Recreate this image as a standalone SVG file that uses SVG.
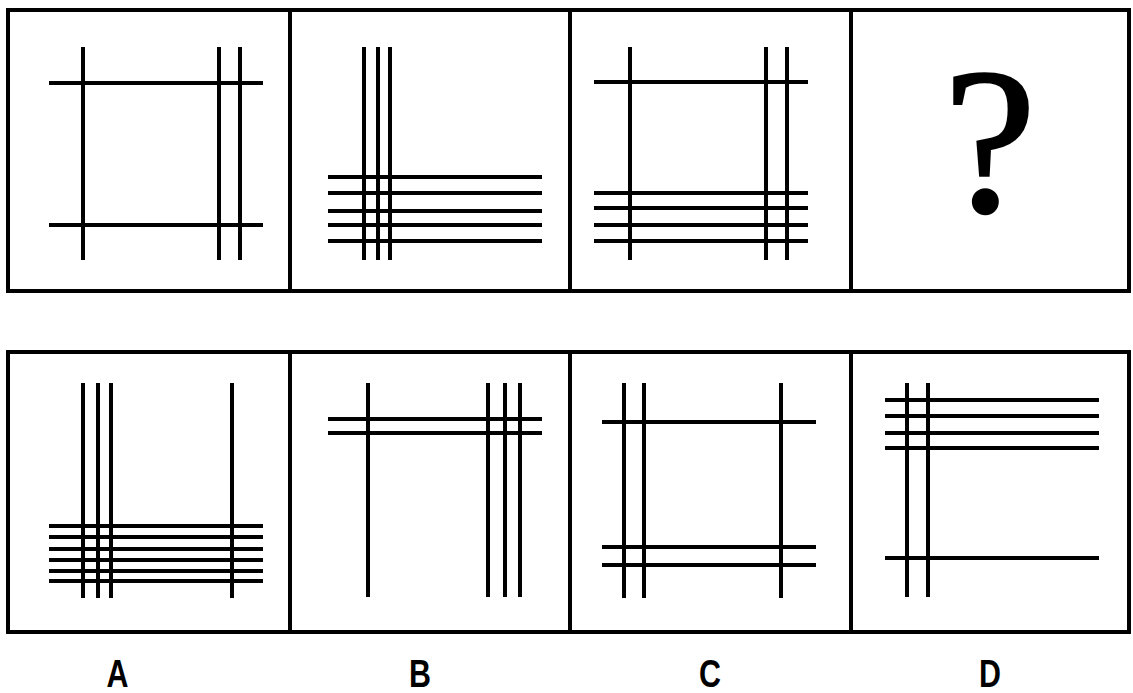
<svg xmlns="http://www.w3.org/2000/svg" width="1133" height="693" viewBox="0 0 1133 693">
<style>
.frame{fill:none;stroke:#000;stroke-width:4}
.ln{stroke:#000;stroke-width:4}
.lbl{font-family:"Liberation Sans",Arial,sans-serif;font-weight:bold;font-size:39px;fill:#000;text-anchor:middle}
.q{font-family:"Liberation Serif","Times New Roman",serif;font-size:208px;fill:#000;stroke:#000;stroke-width:2.5;text-anchor:middle}
</style>
<rect width="1133" height="693" fill="#fff"/>
<g id="frames">
<rect class="frame" x="8" y="10" width="1121" height="281"/>
<line class="ln" x1="290" y1="10" x2="290" y2="291"/>
<line class="ln" x1="570" y1="10" x2="570" y2="291"/>
<line class="ln" x1="851" y1="10" x2="851" y2="291"/>
<rect class="frame" x="8" y="352" width="1121" height="280"/>
<line class="ln" x1="290" y1="352" x2="290" y2="632"/>
<line class="ln" x1="570" y1="352" x2="570" y2="632"/>
<line class="ln" x1="851" y1="352" x2="851" y2="632"/>
</g>
<g id="q1">
<line class="ln" x1="83" y1="47" x2="83" y2="260"/>
<line class="ln" x1="219" y1="47" x2="219" y2="260"/>
<line class="ln" x1="240" y1="47" x2="240" y2="260"/>
<line class="ln" x1="49" y1="83" x2="263" y2="83"/>
<line class="ln" x1="49" y1="225" x2="263" y2="225"/>
</g>
<g id="q2">
<line class="ln" x1="364" y1="47" x2="364" y2="260"/>
<line class="ln" x1="378" y1="47" x2="378" y2="260"/>
<line class="ln" x1="390" y1="47" x2="390" y2="260"/>
<line class="ln" x1="328" y1="177" x2="542" y2="177"/>
<line class="ln" x1="328" y1="193" x2="542" y2="193"/>
<line class="ln" x1="328" y1="211" x2="542" y2="211"/>
<line class="ln" x1="328" y1="225" x2="542" y2="225"/>
<line class="ln" x1="328" y1="241" x2="542" y2="241"/>
</g>
<g id="q3">
<line class="ln" x1="630" y1="47" x2="630" y2="260"/>
<line class="ln" x1="766" y1="47" x2="766" y2="260"/>
<line class="ln" x1="787" y1="47" x2="787" y2="260"/>
<line class="ln" x1="594" y1="82" x2="808" y2="82"/>
<line class="ln" x1="594" y1="193" x2="808" y2="193"/>
<line class="ln" x1="594" y1="208" x2="808" y2="208"/>
<line class="ln" x1="594" y1="225" x2="808" y2="225"/>
<line class="ln" x1="594" y1="241" x2="808" y2="241"/>
</g>
<g id="q4">
<text class="q" x="990" y="211">?</text>
</g>
<g id="optA">
<line class="ln" x1="83" y1="383" x2="83" y2="598"/>
<line class="ln" x1="98" y1="383" x2="98" y2="598"/>
<line class="ln" x1="111" y1="383" x2="111" y2="598"/>
<line class="ln" x1="232" y1="383" x2="232" y2="598"/>
<line class="ln" x1="49" y1="526" x2="263" y2="526"/>
<line class="ln" x1="49" y1="537" x2="263" y2="537"/>
<line class="ln" x1="49" y1="549" x2="263" y2="549"/>
<line class="ln" x1="49" y1="560" x2="263" y2="560"/>
<line class="ln" x1="49" y1="571" x2="263" y2="571"/>
<line class="ln" x1="49" y1="581" x2="263" y2="581"/>
</g>
<g id="optB">
<line class="ln" x1="368" y1="383" x2="368" y2="597"/>
<line class="ln" x1="488" y1="383" x2="488" y2="597"/>
<line class="ln" x1="505" y1="383" x2="505" y2="597"/>
<line class="ln" x1="520" y1="383" x2="520" y2="597"/>
<line class="ln" x1="328" y1="419" x2="542" y2="419"/>
<line class="ln" x1="328" y1="433" x2="542" y2="433"/>
</g>
<g id="optC">
<line class="ln" x1="624" y1="383" x2="624" y2="598"/>
<line class="ln" x1="644" y1="383" x2="644" y2="598"/>
<line class="ln" x1="781" y1="383" x2="781" y2="598"/>
<line class="ln" x1="602" y1="422" x2="816" y2="422"/>
<line class="ln" x1="602" y1="547" x2="816" y2="547"/>
<line class="ln" x1="602" y1="565" x2="816" y2="565"/>
</g>
<g id="optD">
<line class="ln" x1="907" y1="383" x2="907" y2="597"/>
<line class="ln" x1="928" y1="383" x2="928" y2="597"/>
<line class="ln" x1="885" y1="400" x2="1099" y2="400"/>
<line class="ln" x1="885" y1="416" x2="1099" y2="416"/>
<line class="ln" x1="885" y1="433" x2="1099" y2="433"/>
<line class="ln" x1="885" y1="448" x2="1099" y2="448"/>
<line class="ln" x1="885" y1="558" x2="1099" y2="558"/>
</g>
<g id="labels">
<text class="lbl" transform="translate(117.5,687) scale(0.78,1)">A</text>
<text class="lbl" transform="translate(420,687) scale(0.78,1)">B</text>
<text class="lbl" transform="translate(710,687) scale(0.78,1)">C</text>
<text class="lbl" transform="translate(990,687) scale(0.78,1)">D</text>
</g>
</svg>
